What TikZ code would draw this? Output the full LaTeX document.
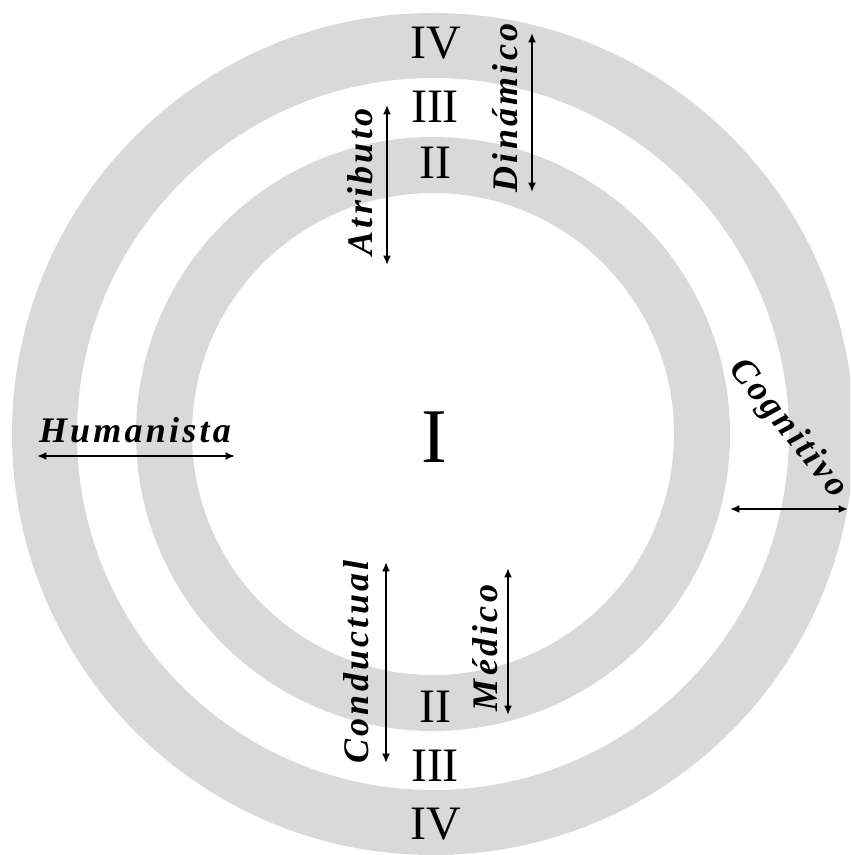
\documentclass[tikz,border=0pt]{standalone}
\usepackage{fontspec}
\setmainfont{Liberation Serif}
\newfontfamily\labfont{Liberation Serif}[LetterSpace=9]
\newfontfamily\cogfont{Liberation Serif}[LetterSpace=8]
\usetikzlibrary{arrows.meta}
\definecolor{ringgray}{HTML}{D9D9D9}
\tikzset{
  numeral/.style={inner sep=0pt, font=\fontsize{36}{40}\selectfont},
  label/.style={inner sep=0pt, anchor=base, font=\labfont\bfseries\itshape\fontsize{27}{30}\selectfont},
  dbl/.style={line width=1.5pt, {Latex[length=7pt,width=6pt]}-{Latex[length=7pt,width=6pt]}}
}
\begin{document}
\begin{tikzpicture}[x=0.75pt,y=-0.75pt]
\useasboundingbox (0,0) rectangle (850,855);
\clip (0,0) rectangle (850,855);
\coordinate (c) at (433,434);
\fill[ringgray, even odd rule] (c) circle[radius=315.75pt] (c) circle[radius=267pt]
  (c) circle[radius=222.75pt] (c) circle[radius=180.75pt];
% numerals
\node[numeral, font=\fontsize{58}{60}\selectfont] (n1) at (434,437) {I};
\node[numeral] (n2t) at (435,162.5) {II};
\node[numeral] (n3t) at (435,107) {III};
\node[numeral] (n4t) at (436,43.5) {IV};
\node[numeral] (n2b) at (435,707) {II};
\node[numeral] (n3b) at (435,766) {III};
\node[numeral] (n4b) at (436,824) {IV};
% labels
\node[label, rotate=90] (atr) at (372,182) {Atributo};
\node[label, rotate=90] (din) at (517,108) {Dinámico};
\node[label, rotate=90] (con) at (368,662) {Conductual};
\node[label, rotate=90] (med) at (497,648) {Médico};
\node[label] (hum) at (135,442) {Humanista};
\node[inner sep=0pt, anchor=center, rotate=-51,
      font=\cogfont\bfseries\itshape\fontsize{27}{30}\selectfont] (cog) at (788,429) {Cognitivo};
% arrows
\coordinate (atrA) at (387,105); \coordinate (atrB) at (387,265);
\coordinate (dinA) at (532,33);  \coordinate (dinB) at (532,192);
\coordinate (humA) at (37,456);  \coordinate (humB) at (235,456);
\coordinate (cogA) at (730,509); \coordinate (cogB) at (848,509);
\coordinate (conA) at (386,562); \coordinate (conB) at (386,763);
\coordinate (medA) at (508,568); \coordinate (medB) at (508,715);
\draw[dbl] (atrA) -- (atrB);
\draw[dbl] (dinA) -- (dinB);
\draw[dbl] (humA) -- (humB);
\draw[dbl] (cogA) -- (cogB);
\draw[dbl] (conA) -- (conB);
\draw[dbl] (medA) -- (medB);
\end{tikzpicture}
\end{document}
